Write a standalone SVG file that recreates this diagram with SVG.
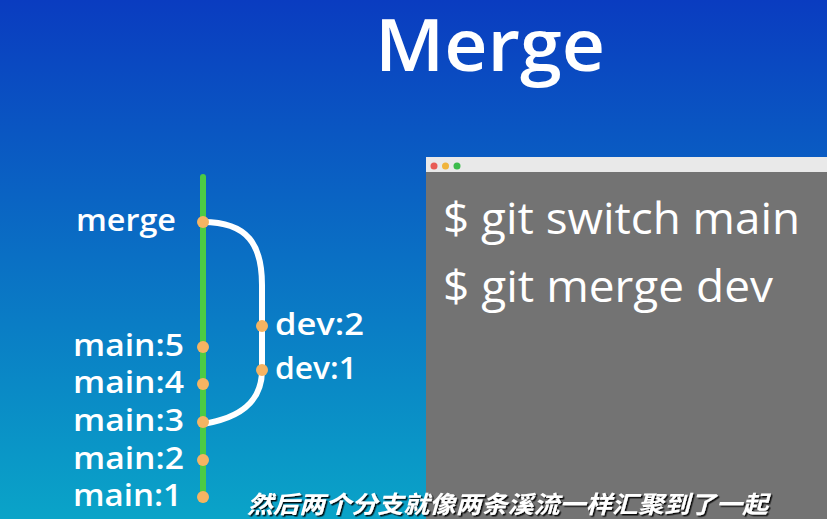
<svg xmlns="http://www.w3.org/2000/svg" width="827" height="519" viewBox="0 0 827 519">
<defs>
<linearGradient id="bg" x1="0" y1="0" x2="0" y2="1">
<stop offset="0" stop-color="#0a3cc0"/>
<stop offset="1" stop-color="#0aa4c8"/>
</linearGradient>
<filter id="sh" x="-5%" y="-30%" width="110%" height="160%">
<feDropShadow dx="1.5" dy="1.5" stdDeviation="0.6" flood-color="#000" flood-opacity="0.9"/>
</filter>
</defs>
<style>
.lbl{font-family:"Open Sans","Noto Sans","DejaVu Sans",sans-serif;font-size:30px;fill:#fff;font-weight:600}
.cmd{font-family:"Open Sans","Noto Sans",sans-serif;font-size:44px;fill:#fff}
.dot{fill:#f5b462}
.sub{font-family:"Noto Sans CJK SC",sans-serif;font-size:24px;font-weight:700;font-style:italic;fill:#fff}
</style>
<rect width="827" height="519" fill="url(#bg)"/>
<text x="375" y="71" font-family="Open Sans, Noto Sans, sans-serif" font-size="72" font-weight="600" fill="#fff" textLength="230" lengthAdjust="spacingAndGlyphs">Merge</text>
<g id="terminal">
<rect x="426" y="157" width="401" height="362" fill="#737373"/>
<rect x="426" y="157" width="401" height="15" fill="#e9e9e9"/>
<circle cx="434" cy="166" r="3.5" fill="#e85c55"/>
<circle cx="445.5" cy="166" r="3.5" fill="#f0b43c"/>
<circle cx="457" cy="166" r="3.5" fill="#3cbc4c"/>
<text class="cmd" x="443" y="234" textLength="357" lengthAdjust="spacingAndGlyphs">$ git switch main</text>
<text class="cmd" x="443" y="302" textLength="330" lengthAdjust="spacingAndGlyphs">$ git merge dev</text>
</g>
<g id="connectors">
<line x1="203" y1="177" x2="203" y2="500" stroke="#4ccb44" stroke-width="6" stroke-linecap="round"/>
<path d="M203,222 C248,222 262,245 262,285 L262,370 C262,402 240,418 203,424" fill="none" stroke="#fff" stroke-width="6"/>
</g>
<g id="merge"><circle class="dot" cx="203" cy="222" r="6"/><text class="lbl" x="76" y="231" textLength="100" lengthAdjust="spacingAndGlyphs">merge</text></g>
<g id="main5"><circle class="dot" cx="203" cy="347" r="6"/><text class="lbl" x="73" y="356" textLength="111" lengthAdjust="spacingAndGlyphs">main:5</text></g>
<g id="main4"><circle class="dot" cx="203" cy="384" r="6"/><text class="lbl" x="73" y="393" textLength="111" lengthAdjust="spacingAndGlyphs">main:4</text></g>
<g id="main3"><circle class="dot" cx="203" cy="422" r="6"/><text class="lbl" x="73" y="431" textLength="111" lengthAdjust="spacingAndGlyphs">main:3</text></g>
<g id="main2"><circle class="dot" cx="203" cy="460" r="6"/><text class="lbl" x="73" y="469" textLength="111" lengthAdjust="spacingAndGlyphs">main:2</text></g>
<g id="main1"><circle class="dot" cx="203" cy="497" r="6"/><text class="lbl" x="73" y="506" textLength="109" lengthAdjust="spacingAndGlyphs">main:1</text></g>
<g id="dev2"><circle class="dot" cx="262" cy="326" r="6"/><text class="lbl" x="275" y="335" textLength="89" lengthAdjust="spacingAndGlyphs">dev:2</text></g>
<g id="dev1"><circle class="dot" cx="262" cy="370" r="6"/><text class="lbl" x="275" y="379" textLength="82" lengthAdjust="spacingAndGlyphs">dev:1</text></g>
<text class="sub" x="247" y="513" filter="url(#sh)" textLength="521" lengthAdjust="spacingAndGlyphs">然后两个分支就像两条溪流一样汇聚到了一起</text>
</svg>
